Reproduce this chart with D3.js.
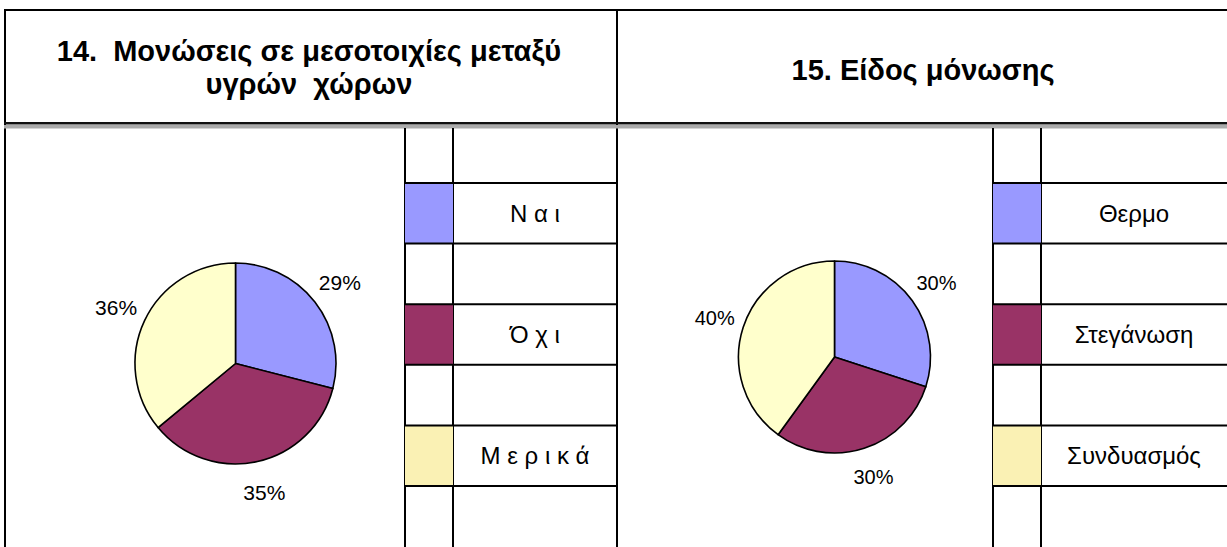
<!DOCTYPE html>
<html lang="el">
<head>
<meta charset="utf-8">
<title>Μονώσεις</title>
<script src="https://cdn.jsdelivr.net/npm/d3@7"></script>
<style>
  body { margin: 0; background: #fff; }
  svg { display: block; font-family: "Liberation Sans", Arial, sans-serif; }
  text { white-space: pre; }
  .title { font-weight: 700; font-size: 29px; fill: #000; }
  .legend-text { font-size: 24px; fill: #000; }
  .grid { stroke: #000; stroke-width: 2; }
</style>
</head>
<body>
<div id="chart"></div>
<script>
// data
var titles1 = ["14.  Μονώσεις σε μεσοτοιχίες μεταξύ", "υγρών  χώρων"];
var titles2 = ["15. Είδος μόνωσης"];
var categories1 = ["Ν α ι", "Ό χ ι", "Μ ε ρ ι κ ά"];
var values1 = [29, 35, 36];
var categories2 = ["Θερμο", "Στεγάνωση", "Συνδυασμός"];
var values2 = [30, 30, 40];
var sliceColors = ["#9999FF", "#993366", "#FFFFCC"];
var boxColors = ["#9999FF", "#993366", "#FAF1B4"];

var W = 1227, H = 547;

var svg = d3.select("#chart").append("svg")
  .attr("width", W)
  .attr("height", H);

// frame of the table
var frameTop = 10, frameLeft = 5, mid = 617, headBottom = 123;

svg.append("line").attr("class", "grid")
  .attr("x1", frameLeft - 1).attr("x2", W).attr("y1", frameTop).attr("y2", frameTop);
svg.append("line").attr("class", "grid")
  .attr("x1", frameLeft).attr("x2", frameLeft).attr("y1", frameTop).attr("y2", H);
svg.append("line").attr("class", "grid")
  .attr("x1", mid).attr("x2", mid).attr("y1", frameTop).attr("y2", H);

// double rule under the header
svg.append("rect").attr("x", frameLeft - 1).attr("y", headBottom - 1)
  .attr("width", W).attr("height", 2.5).attr("fill", "#111");
svg.append("rect").attr("x", frameLeft - 1).attr("y", headBottom + 2)
  .attr("width", W).attr("height", 3.5).attr("fill", "#ababab");

// header titles
svg.append("text").attr("class", "title")
  .attr("text-anchor", "middle")
  .selectAll("tspan")
  .data(titles1)
  .enter().append("tspan")
  .attr("x", 309)
  .attr("y", function(d, i) { return 61 + i * 33; })
  .text(function(d) { return d; });

svg.append("text").attr("class", "title")
  .attr("text-anchor", "middle")
  .attr("x", 923).attr("y", 80)
  .text(titles2[0]);

// one pie + legend table
function drawPanel(cfg) {
  var g = svg.append("g");

  var pie = d3.pie().sort(null).value(function(d) { return d; });
  var arcs = pie(cfg.values);
  var arc = d3.arc().innerRadius(0).outerRadius(cfg.r);
  var labelArc = d3.arc().innerRadius(cfg.labelR).outerRadius(cfg.labelR);
  var total = d3.sum(cfg.values);

  var pg = g.append("g").attr("transform", "translate(" + cfg.cx + "," + cfg.cy + ")");

  pg.selectAll("path")
    .data(arcs)
    .enter().append("path")
    .attr("d", arc)
    .attr("fill", function(d, i) { return sliceColors[i]; })
    .attr("stroke", "#000")
    .attr("stroke-width", 1.6)
    .attr("stroke-linejoin", "round");

  pg.selectAll("text")
    .data(arcs)
    .enter().append("text")
    .attr("transform", function(d) { return "translate(" + labelArc.centroid(d) + ")"; })
    .attr("text-anchor", "middle")
    .attr("dy", "0.35em")
    .style("font-size", cfg.labelSize + "px")
    .text(function(d) { return Math.round(d.data / total * 100) + "%"; });

  // legend grid: rows alternate empty / category
  var rowY = d3.scaleLinear().domain([0, 5]).range([183, 486]);
  var top = headBottom + 5;

  g.selectAll(".vline")
    .data([cfg.colA, cfg.colB])
    .enter().append("line")
    .attr("class", "grid")
    .attr("x1", function(d) { return d; }).attr("x2", function(d) { return d; })
    .attr("y1", top).attr("y2", H);

  g.selectAll(".box")
    .data(cfg.categories)
    .enter().append("rect")
    .attr("x", cfg.colA)
    .attr("y", function(d, i) { return rowY(2 * i); })
    .attr("width", cfg.colB - cfg.colA)
    .attr("height", function(d, i) { return rowY(2 * i + 1) - rowY(2 * i); })
    .attr("fill", function(d, i) { return boxColors[i]; });

  g.selectAll(".hline")
    .data(d3.range(6))
    .enter().append("line")
    .attr("class", "grid")
    .attr("x1", cfg.colA).attr("x2", cfg.colEnd)
    .attr("y1", function(d) { return rowY(d); })
    .attr("y2", function(d) { return rowY(d); });

  g.selectAll(".legend-text")
    .data(cfg.categories)
    .enter().append("text")
    .attr("class", "legend-text")
    .attr("text-anchor", "middle")
    .attr("x", (cfg.colB + cfg.colEnd) / 2)
    .attr("y", function(d, i) { return (rowY(2 * i) + rowY(2 * i + 1)) / 2; })
    .attr("dy", "0.36em")
    .text(function(d) { return d; });
}

drawPanel({
  values: values1, categories: categories1,
  cx: 235.5, cy: 363.5, r: 100.5, labelR: 132, labelSize: 21,
  colA: 405, colB: 453, colEnd: mid
});

drawPanel({
  values: values2, categories: categories2,
  cx: 834.5, cy: 357, r: 96, labelR: 126, labelSize: 20,
  colA: 993, colB: 1041, colEnd: W
});
</script>
</body>
</html>
